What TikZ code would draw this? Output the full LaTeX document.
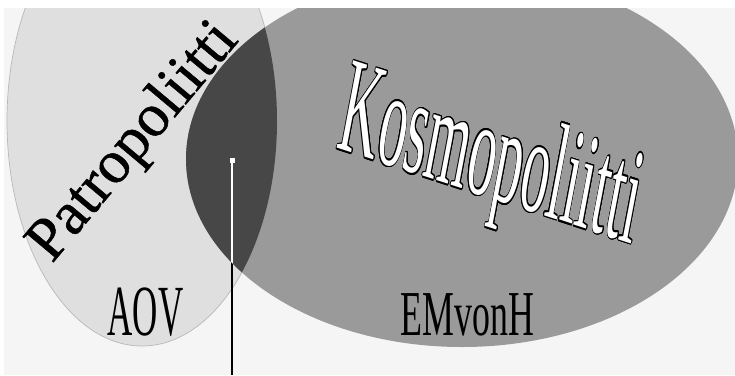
\documentclass[tikz,border=0pt]{standalone}
\usepackage{fontspec}
\setmainfont{Liberation Serif}
\usepackage[copies]{contour}
\contourlength{1.1pt}
\definecolor{bgcol}{HTML}{F5F5F5}
\definecolor{lightell}{HTML}{DFDFDF}
\definecolor{ellline}{HTML}{B8B8B8}
\definecolor{midell}{HTML}{9A9A9A}
\definecolor{darkov}{HTML}{474747}
\newcommand{\heavytext}[2]{\special{pdf:literal direct 2 Tr 0 G #1 w}#2\special{pdf:literal direct 0 Tr}}
\begin{document}
\begin{tikzpicture}[x=1pt,y=1pt,
  labeltext/.style={inner sep=0pt, text=black},
  connector/.style={line width=1.7pt},
  marker/.style={fill=white, minimum size=5pt, inner sep=0pt}]
\useasboundingbox (0,0) rectangle (735,-375);
\fill[white] (0,0) rectangle (735,-375);
\fill[bgcol] (4,-8) rectangle (735,-375);
\begin{scope}
  \clip (4,-8) rectangle (735,-375);
  \filldraw[fill=lightell, draw=ellline, line width=0.7pt] (142,-121) ellipse [x radius=135pt, y radius=225pt];
  \fill[midell] (462,-159) ellipse [x radius=276pt, y radius=188pt];
  \begin{scope}
    \clip (142,-121) ellipse [x radius=135pt, y radius=225pt];
    \fill[darkov] (462,-159) ellipse [x radius=276pt, y radius=188pt];
  \end{scope}
\end{scope}
% texts
\node[labeltext, font=\fontsize{61}{61}\selectfont, rotate=50, anchor=base west] (patro) at (52,-264) {\heavytext{0.5}{Patropoliitti}};
\begin{scope}[shift={(335.5,-147.7)}, cm={0.534,-0.173,0.252,1.334,(0,0)}]
  \node[transform shape, anchor=base west, inner sep=0pt, text=white, font=\fontsize{100}{100}\selectfont] (kosmo) at (0,0) {\contour{black}{Kosmopoliitti}};
\end{scope}
\node[labeltext, font=\fontsize{72}{72}\selectfont, xscale=0.485, anchor=base] (aov) at (145.5,-335) {AOV};
\node[labeltext, font=\fontsize{64}{64}\selectfont, xscale=0.56, anchor=base] (emvonh) at (467.5,-335) {EMvonH};
% pointer line
\node[marker] (sq) at (232,-160) {};
\coordinate (bot) at (232,-375);
\draw[connector, black] (sq.south) -- (bot);
\begin{scope}
  \clip (142,-121) ellipse [x radius=135pt, y radius=225pt];
  \clip (462,-159) ellipse [x radius=276pt, y radius=188pt];
  \draw[connector, white] (sq.south) -- (bot);
\end{scope}
\end{tikzpicture}
\end{document}
